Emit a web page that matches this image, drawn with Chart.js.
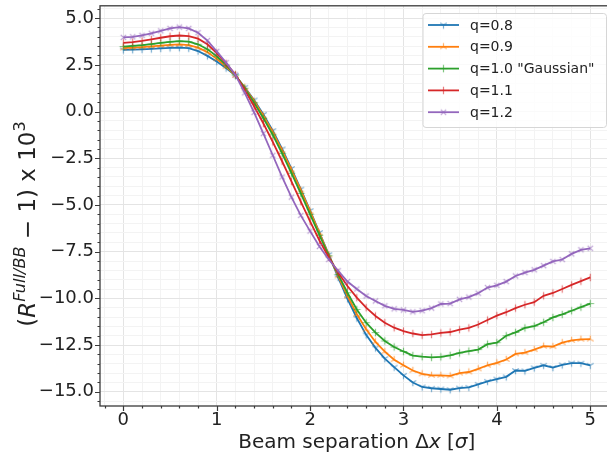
<!DOCTYPE html>
<html>
<head>
<meta charset="utf-8">
<script src="https://cdn.jsdelivr.net/npm/chart.js@4.4.0/dist/chart.umd.min.js"></script>
<style>
  html, body { margin: 0; padding: 0; background: #fff; overflow: hidden; }
  #wrap { width: 620px; height: 455px; }
</style>
</head>
<body>
<div id="wrap"><canvas id="chart" width="620" height="455"></canvas></div>
<script>
// beam separation in units of sigma
const beamSep = [0.0, 0.1, 0.2, 0.3, 0.4, 0.5, 0.6, 0.7, 0.8, 0.9,
  1.0, 1.1, 1.2, 1.3, 1.4, 1.5, 1.6, 1.7, 1.8, 1.9,
  2.0, 2.1, 2.2, 2.3, 2.4, 2.5, 2.6, 2.7, 2.8, 2.9,
  3.0, 3.1, 3.2, 3.3, 3.4, 3.5, 3.6, 3.7, 3.8, 3.9,
  4.0, 4.1, 4.2, 4.3, 4.4, 4.5, 4.6, 4.7, 4.8, 4.9, 5.0];

const q08 = [3.30, 3.31, 3.33, 3.35, 3.38, 3.41, 3.42, 3.39, 3.24, 2.98,
  2.68, 2.33, 1.92, 1.30, 0.62, -0.15, -1.02, -2.00, -3.05, -4.15,
  -5.30, -6.48, -7.66, -8.88, -10.02, -11.05, -11.95, -12.65, -13.22, -13.68,
  -14.12, -14.50, -14.74, -14.81, -14.85, -14.89, -14.80, -14.76, -14.60, -14.44,
  -14.32, -14.20, -13.86, -13.88, -13.72, -13.58, -13.70, -13.56, -13.46, -13.47, -13.58];

const q09 = [3.40, 3.42, 3.45, 3.49, 3.53, 3.57, 3.59, 3.56, 3.42, 3.18,
  2.82, 2.40, 1.93, 1.28, 0.56, -0.24, -1.10, -2.08, -3.12, -4.20,
  -5.34, -6.50, -7.68, -8.80, -9.87, -10.85, -11.65, -12.33, -12.85, -13.28,
  -13.58, -13.86, -14.04, -14.12, -14.12, -14.15, -14.00, -13.94, -13.77, -13.58,
  -13.45, -13.27, -12.97, -12.90, -12.74, -12.56, -12.58, -12.37, -12.25, -12.19, -12.18];

const q10 = [3.48, 3.51, 3.55, 3.61, 3.67, 3.73, 3.77, 3.74, 3.60, 3.34,
  2.96, 2.48, 1.95, 1.25, 0.47, -0.36, -1.25, -2.24, -3.30, -4.38,
  -5.50, -6.62, -7.72, -8.72, -9.70, -10.59, -11.30, -11.83, -12.28, -12.60,
  -12.84, -13.06, -13.12, -13.16, -13.13, -13.05, -12.92, -12.82, -12.74, -12.45,
  -12.37, -12.00, -11.82, -11.58, -11.48, -11.28, -11.02, -10.86, -10.66, -10.47, -10.28];

const q11 = [3.68, 3.72, 3.78, 3.86, 3.95, 4.03, 4.07, 4.04, 3.90, 3.60,
  3.13, 2.58, 1.98, 1.16, 0.28, -0.64, -1.62, -2.66, -3.74, -4.82,
  -5.88, -6.90, -7.80, -8.62, -9.34, -9.96, -10.50, -10.94, -11.30, -11.57,
  -11.75, -11.88, -11.97, -11.93, -11.85, -11.80, -11.67, -11.58, -11.40, -11.16,
  -10.92, -10.74, -10.52, -10.34, -10.20, -9.86, -9.71, -9.50, -9.28, -9.08, -8.88];

const q12 = [3.97, 4.00, 4.08, 4.19, 4.32, 4.45, 4.52, 4.45, 4.22, 3.80,
  3.22, 2.62, 1.96, 1.00, -0.05, -1.18, -2.34, -3.50, -4.58, -5.56,
  -6.40, -7.22, -7.92, -8.52, -9.10, -9.50, -9.87, -10.14, -10.40, -10.56,
  -10.62, -10.72, -10.66, -10.52, -10.30, -10.28, -10.05, -9.93, -9.72, -9.42,
  -9.30, -9.10, -8.80, -8.62, -8.47, -8.25, -8.02, -7.92, -7.62, -7.40, -7.32];

const seriesLabels = ['q=0.8', 'q=0.9', 'q=1.0 "Gaussian"', 'q=1.1', 'q=1.2'];
const seriesValues = [q08, q09, q10, q11, q12];
const seriesColors = ['#1f77b4', '#ff7f0e', '#2ca02c', '#d62728', '#9467bd'];
const seriesMarkers = ['tri_down', 'tri_up', 'plus', 'vline', 'x'];

const xMajorTicks = [0, 1, 2, 3, 4, 5];
const xTickLabels = ['0', '1', '2', '3', '4', '5'];
const yMajorTicks = [5, 2.5, 0, -2.5, -5, -7.5, -10, -12.5, -15];
const yTickLabels = ['5.0', '2.5', '0.0', '\u22122.5', '\u22125.0', '\u22127.5', '\u221210.0', '\u221212.5', '\u221215.0'];
const xMinorStep = 0.2, yMinorStep = 0.5;

const FONT = "'DejaVu Sans', sans-serif";
const TEXT = '#222';

// minor tick positions (majors included)
const xTicks = [], yTicks = [];
for (let i = -1; i <= 26; i++) xTicks.push(+(i * xMinorStep).toFixed(2));
for (let i = -31; i <= 11; i++) yTicks.push(+(i * yMinorStep).toFixed(2));
const near = (a, list) => list.findIndex(v => Math.abs(v - a) < 1e-6);

function rgba(hex, a) {
  const n = parseInt(hex.slice(1), 16);
  return `rgba(${n >> 16},${(n >> 8) & 255},${n & 255},${a})`;
}

function markerCanvas(kind, color) {
  const s = 11, c = document.createElement('canvas');
  c.width = s; c.height = s;
  const g = c.getContext('2d');
  g.strokeStyle = rgba(color, 0.6);
  g.lineWidth = 1.2;
  const m = s / 2, r = 3.8;
  const legs = (angles) => angles.forEach(a => {
    g.moveTo(m, m);
    g.lineTo(m + r * Math.cos(a), m + r * Math.sin(a));
  });
  g.beginPath();
  if (kind === 'tri_down') legs([Math.PI / 2, -Math.PI / 6, -5 * Math.PI / 6]);
  else if (kind === 'tri_up') legs([-Math.PI / 2, Math.PI / 6, 5 * Math.PI / 6]);
  else if (kind === 'plus') legs([0, Math.PI / 2, Math.PI, -Math.PI / 2]);
  else if (kind === 'vline') legs([Math.PI / 2, -Math.PI / 2]);
  else legs([Math.PI / 4, 3 * Math.PI / 4, -Math.PI / 4, -3 * Math.PI / 4]);
  g.stroke();
  return c;
}

const markers = seriesMarkers.map((k, i) => markerCanvas(k, seriesColors[i]));

const datasets = seriesValues.map((vals, i) => ({
  label: seriesLabels[i],
  data: vals.map((v, j) => ({ x: beamSep[j], y: v })),
  borderColor: seriesColors[i],
  backgroundColor: seriesColors[i],
  borderWidth: 1.8,
  pointStyle: markers[i],
  pointRadius: 4,
  tension: 0,
  order: seriesValues.length - i
}));

// spines, tick marks, axis titles and legend
const decor = {
  id: 'decor',
  afterDraw(chart) {
    const { ctx, chartArea: a, scales } = chart;
    ctx.save();
    ctx.strokeStyle = '#3a3a3a';
    ctx.lineWidth = 1.2;
    ctx.beginPath();
    xTicks.forEach(v => {
      const px = Math.round(scales.x.getPixelForValue(v)) + 0.5;
      if (px < a.left - 1 || px > a.right + 1) return;
      const len = near(v, xMajorTicks) >= 0 ? 5 : 2.5;
      ctx.moveTo(px, a.bottom); ctx.lineTo(px, a.bottom + len);
    });
    yTicks.forEach(v => {
      const py = Math.round(scales.y.getPixelForValue(v)) + 0.5;
      if (py < a.top - 1 || py > a.bottom + 1) return;
      const len = near(v, yMajorTicks) >= 0 ? 5 : 2.5;
      ctx.moveTo(a.left, py); ctx.lineTo(a.left - len, py);
    });
    ctx.stroke();
    ctx.lineWidth = 1.3;
    ctx.strokeRect(a.left, a.top, a.right - a.left, a.bottom - a.top);

    // x axis title
    ctx.fillStyle = TEXT;
    ctx.textBaseline = 'alphabetic';
    const fx = 20;
    const xParts = [
      ['Beam separation \u0394', 'normal', fx, 0],
      ['x', 'italic', fx, 0],
      [' [', 'normal', fx, 0],
      ['\u03c3', 'italic', fx, 0],
      [']', 'normal', fx, 0]
    ];
    drawParts(ctx, xParts, (a.left + a.right) / 2, 448);

    // y axis title, rotated
    ctx.save();
    ctx.translate(35, 224);
    ctx.rotate(-Math.PI / 2);
    const fy = 23;
    const sup = fy * 0.7;
    const yParts = [
      ['(', 'normal', fy, 0],
      ['R', 'italic', fy, 0],
      ['Full/BB', 'italic', sup, -fy * 0.45],
      [' \u2212 ', 'normal', fy, 0],
      ['1) x 10', 'normal', fy, 0],
      ['3', 'normal', sup, -fy * 0.45]
    ];
    drawParts(ctx, yParts, 0, 0);
    ctx.restore();

    // legend
    const lx = 423, ly = 13.5, lw = 183.5, lh = 114;
    ctx.beginPath();
    ctx.roundRect(lx, ly, lw, lh, 3);
    ctx.fillStyle = 'rgba(255,255,255,0.8)';
    ctx.fill();
    ctx.strokeStyle = '#d6d6d6';
    ctx.lineWidth = 1;
    ctx.stroke();
    ctx.font = `14px ${FONT}`;
    ctx.textBaseline = 'middle';
    seriesLabels.forEach((lab, i) => {
      const y = ly + 11.5 + i * 21.8;
      ctx.strokeStyle = seriesColors[i];
      ctx.lineWidth = 1.8;
      ctx.beginPath(); ctx.moveTo(428, y); ctx.lineTo(459, y); ctx.stroke();
      ctx.drawImage(markers[i], 443.5 - markers[i].width / 2, y - markers[i].height / 2);
      ctx.fillStyle = TEXT;
      ctx.fillText(lab, 470, y + 1);
    });
    ctx.restore();
  }
};

function drawParts(ctx, parts, cx, baseY) {
  const widths = parts.map(([t, st, sz]) => {
    ctx.font = `${st} ${sz}px ${FONT}`;
    return ctx.measureText(t).width;
  });
  let x = cx - widths.reduce((s, w) => s + w, 0) / 2;
  parts.forEach(([t, st, sz, dy], i) => {
    ctx.font = `${st} ${sz}px ${FONT}`;
    ctx.fillText(t, x, baseY + dy);
    x += widths[i];
  });
}

const noPad = s => { s.paddingTop = 0; s.paddingBottom = 0; s.paddingLeft = 0; s.paddingRight = 0; };

new Chart(document.getElementById('chart'), {
  type: 'line',
  data: { datasets },
  options: {
    responsive: false,
    animation: false,
    devicePixelRatio: 1,
    layout: { padding: { top: 5, right: 6.4, left: 0, bottom: 0 } },
    plugins: { legend: { display: false }, tooltip: { enabled: false } },
    scales: {
      x: {
        type: 'linear',
        min: -0.25,
        max: 5.25,
        afterBuildTicks: s => { s.ticks = xTicks.map(v => ({ value: v })); },
        afterFit: s => { s.height = 49; noPad(s); },
        border: { display: false },
        grid: {
          drawTicks: false,
          color: c => near(c.tick.value, xMajorTicks) >= 0 ? '#e4e4e4' : '#f3f3f3',
          lineWidth: 1
        },
        ticks: {
          autoSkip: false,
          maxRotation: 0,
          padding: 4,
          color: TEXT,
          font: { family: FONT, size: 18 },
          callback: v => { const k = near(v, xMajorTicks); return k >= 0 ? xTickLabels[k] : ''; }
        }
      },
      y: {
        type: 'linear',
        min: -15.76,
        max: 5.66,
        afterBuildTicks: s => { s.ticks = yTicks.map(v => ({ value: v })); },
        afterFit: s => { s.width = 100; noPad(s); },
        border: { display: false },
        grid: {
          drawTicks: false,
          color: c => near(c.tick.value, yMajorTicks) >= 0 ? '#e4e4e4' : '#f3f3f3',
          lineWidth: 1
        },
        ticks: {
          autoSkip: false,
          padding: 6,
          color: TEXT,
          font: { family: FONT, size: 18 },
          callback: v => { const k = near(v, yMajorTicks); return k >= 0 ? yTickLabels[k] : ''; }
        }
      }
    }
  },
  plugins: [decor]
});
</script>
</body>
</html>
